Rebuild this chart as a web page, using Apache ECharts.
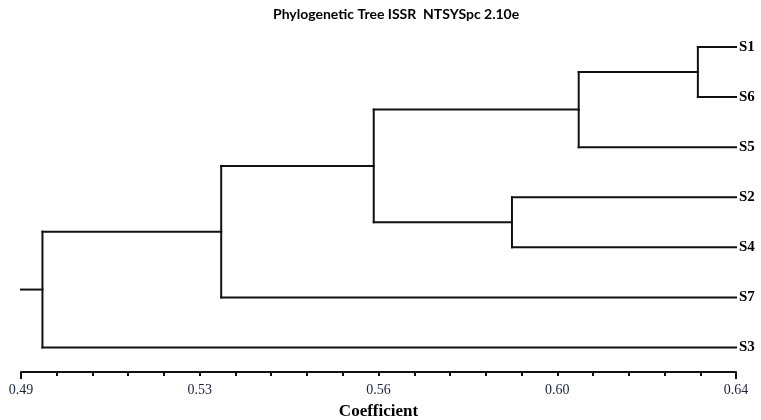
<!DOCTYPE html>
<html>
<head>
<meta charset="utf-8">
<script src="https://cdn.jsdelivr.net/npm/echarts@6/dist/echarts.min.js"></script>
<style>
    html, body { margin: 0; padding: 0; background: #ffffff; }
    #tree { width: 761px; height: 420px; }
</style>
</head>
<body>
<div id="tree"></div>
<script>
// leaves, top to bottom
var leaves = ['S1', 'S6', 'S5', 'S2', 'S4', 'S7', 'S3'];
// merge steps: [child a, child b, coefficient]; 0-6 are leaves, 7+ are earlier merges
var mergeA = [0, 7, 3, 8, 10, 11];
var mergeB = [1, 2, 4, 9, 5, 6];
var mergeCoef = [0.632, 0.607, 0.593, 0.564, 0.532, 0.4945];
// axis
var xMin = 0.49;
var xMax = 0.64;
var xTickLabels = ['0.49', '0.53', '0.56', '0.60', '0.64'];

var Dendro = {
    init: function () {
        var segs = Dendro.buildSegments();
        Dendro.draw(segs);
    },
    // 由合并步骤计算树的线段（数据坐标）
    buildSegments: function () {
        var nodeX = [], nodeY = [], segs = [];
        for (var i = 0; i < leaves.length; i++) {
            nodeX.push(xMax);
            nodeY.push(i);
        }
        for (var k = 0; k < mergeCoef.length; k++) {
            var a = mergeA[k], b = mergeB[k], h = mergeCoef[k];
            segs.push([h, nodeY[a], h, nodeY[b]]);
            segs.push([h, nodeY[a], nodeX[a], nodeY[a]]);
            segs.push([h, nodeY[b], nodeX[b], nodeY[b]]);
            nodeX.push(h);
            nodeY.push((nodeY[a] + nodeY[b]) / 2);
        }
        var root = nodeX.length - 1;
        segs.push([xMin, nodeY[root], nodeX[root], nodeY[root]]);
        return segs;
    },
    draw: function (segs) {
        var ticks = [];
        for (var i = 0; i <= 20; i++) ticks.push(xMin + i * (xMax - xMin) / 20);
        var labelVals = [];
        for (var j = 0; j < xTickLabels.length; j++) labelVals.push(xMin + j * (xMax - xMin) / (xTickLabels.length - 1));
        var leafIdx = leaves.map(function (n, i) { return i; });

        var option = {
            backgroundColor: '#ffffff',
            animation: false,
            title: {
                text: 'Phylogenetic Tree ISSR  NTSYSpc 2.10e',
                left: 273,
                top: 7,
                padding: 0,
                textStyle: { fontFamily: 'Lato', fontWeight: 'bold', fontSize: 14, color: '#000000' }
            },
            grid: { left: 21, right: 25, top: 47, bottom: 48, outerBoundsMode: 'none' },
            xAxis: [{
                type: 'value',
                min: xMin,
                max: xMax,
                position: 'bottom',
                name: 'Coefficient',
                nameLocation: 'middle',
                nameGap: 31,
                nameTextStyle: { fontFamily: 'Liberation Serif', fontWeight: 'bold', fontSize: 17, color: '#000000' },
                splitLine: { show: false },
                axisLine: { onZero: false, lineStyle: { color: '#111111', width: 2 } },
                axisTick: { customValues: ticks, length: 4, lineStyle: { color: '#111111', width: 2 } },
                axisLabel: {
                    customValues: labelVals,
                    margin: 11,
                    fontFamily: 'Liberation Serif',
                    fontSize: 14,
                    color: '#1a2040',
                    formatter: function (v) {
                        return xTickLabels[Math.round((v - xMin) / (xMax - xMin) * (xTickLabels.length - 1))];
                    }
                }
            }, {
                // 两端的长刻度
                type: 'value',
                min: xMin,
                max: xMax,
                position: 'bottom',
                splitLine: { show: false },
                axisLine: { show: false, onZero: false },
                axisTick: { customValues: [xMin, xMax], length: 7, lineStyle: { color: '#111111', width: 2 } },
                axisLabel: { show: false }
            }],
            yAxis: {
                type: 'value',
                min: 0,
                max: 6.49,
                inverse: true,
                position: 'right',
                splitLine: { show: false },
                axisLine: { show: false },
                axisTick: { show: false },
                axisLabel: {
                    customValues: leafIdx,
                    margin: 3,
                    fontFamily: 'Liberation Serif',
                    fontWeight: 'bold',
                    fontSize: 15,
                    color: '#000000',
                    formatter: function (v) { return leaves[Math.round(v)]; }
                }
            },
            series: [{
                type: 'custom',
                coordinateSystem: 'cartesian2d',
                data: segs,
                renderItem: function (params, api) {
                    var p1 = api.coord([api.value(0), api.value(1)]);
                    var p2 = api.coord([api.value(2), api.value(3)]);
                    return {
                        type: 'line',
                        shape: { x1: p1[0], y1: p1[1], x2: p2[0], y2: p2[1] },
                        style: { stroke: '#111111', lineWidth: 2, lineCap: 'square' }
                    };
                },
                encode: { x: [0, 2], y: [1, 3] }
            }]
        };

        var myChart = echarts.init(document.getElementById('tree'));
        myChart.setOption(option);
    }
};

Dendro.init();
</script>
</body>
</html>
